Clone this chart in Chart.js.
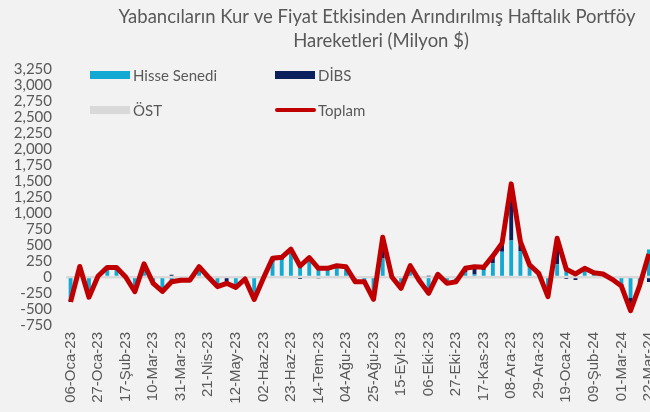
<!DOCTYPE html>
<html>
<head>
<meta charset="utf-8">
<script src="https://cdn.jsdelivr.net/npm/chart.js@4.4.1/dist/chart.umd.min.js"></script>
<style>
    html, body { margin: 0; padding: 0; background: #f2f2f2; overflow: hidden; }
    #wrap { width: 674px; height: 412px; }
</style>
</head>
<body>
<div id="wrap"><canvas id="flows"></canvas></div>
<script>
const weeks = [
    '06-Oca-23', '13-Oca-23', '20-Oca-23', '27-Oca-23', '03-Şub-23', '10-Şub-23', '17-Şub-23', '24-Şub-23',
    '03-Mar-23', '10-Mar-23', '17-Mar-23', '24-Mar-23', '31-Mar-23', '07-Nis-23', '14-Nis-23', '21-Nis-23',
    '28-Nis-23', '05-May-23', '12-May-23', '19-May-23', '26-May-23', '02-Haz-23', '09-Haz-23', '16-Haz-23',
    '23-Haz-23', '30-Haz-23', '07-Tem-23', '14-Tem-23', '21-Tem-23', '28-Tem-23', '04-Ağu-23', '11-Ağu-23',
    '18-Ağu-23', '25-Ağu-23', '01-Eyl-23', '08-Eyl-23', '15-Eyl-23', '22-Eyl-23', '29-Eyl-23', '06-Eki-23',
    '13-Eki-23', '20-Eki-23', '27-Eki-23', '03-Kas-23', '10-Kas-23', '17-Kas-23', '24-Kas-23', '01-Ara-23',
    '08-Ara-23', '15-Ara-23', '22-Ara-23', '29-Ara-23', '05-Oca-24', '12-Oca-24', '19-Oca-24', '26-Oca-24',
    '02-Şub-24', '09-Şub-24', '16-Şub-24', '23-Şub-24', '01-Mar-24', '08-Mar-24', '15-Mar-24', '22-Mar-24'
]

// Hisse Senedi
const equity = [
    -360, 150, -280, 15, 120, 120, -10, -190, 180, -100, -200, -110, -50, -40, 120, -20,
    -110, -20, -120, -30, -330, -20, 230, 270, 380, 200, 250, 150, 110, 150, 130, -90,
    -70, -330, 290, 20, -150, 120, -50, -270, 20, -70, -60, 80, 40, 110, 215, 395,
    570, 405, 180, 50, -250, 200, 140, 90, 100, 60, 40, -60, -110, -330, -150, 430
]
// DİBS
const govBonds = [
    -30, 15, -35, 0, 30, 30, 10, -40, 25, 0, -25, 35, 0, -10, 40, 20,
    -40, -80, -40, 0, -20, 0, 60, 40, 40, -30, 50, -25, 10, 25, 30, 20,
    0, -20, 330, -20, -27, 50, -10, 10, 0, -30, -13, 50, 120, 40, 110, 130,
    870, 145, 0, 0, -55, 400, -30, -45, 30, 0, 0, 20, -30, -190, 20, -80
]
// ÖST
const corpBonds = [
    0, 0, 0, 0, 0, 0, 0, 0, 0, 0, 0, 0, 0, 0, 0, 0,
    0, 0, 0, 0, 0, 0, 0, 0, 15, 0, 0, 0, 16, 0, 0, 0,
    0, 0, 0, 0, 0, 0, 0, 0, 22, 0, 0, 0, 0, 0, 0, 0,
    15, 0, 0, 0, 0, 0, 0, 0, 6, 0, 0, 0, 0, 0, 0, 0
]
// Toplam
const total = [
    -390, 165, -315, 15, 150, 150, 0, -230, 205, -100, -225, -75, -50, -50, 160, 0,
    -150, -99, -162, -31, -350, -21, 292, 308, 435, 172, 302, 136, 136, 177, 161, -73,
    -73, -350, 621, 0, -177, 177, -60, -255, 42, -99, -73, 136, 161, 152, 329, 527,
    1455, 552, 188, 58, -308, 605, 120, 47, 136, 67, 47, -36, -141, -527, -130, 360
]

const titleLines = ['Yabancıların Kur ve Fiyat Etkisinden Arındırılmış Haftalık Portföy', 'Hareketleri (Milyon $)']
const textColor = '#595959'

// title and the two-column legend sit inside the empty top of the chart
const decorPlugin = {
    id: 'decor',
    afterDraw(chart) {
        const ctx = chart.ctx
        ctx.save()
        ctx.fillStyle = textColor
        ctx.textAlign = 'center'
        ctx.textBaseline = 'middle'
        ctx.font = '18.5px Lato'
        ctx.fillText(titleLines[0], 377, 17)
        ctx.fillText(titleLines[1], 381, 41)

        const items = chart.data.datasets.map(ds => ({ label: ds.label, color: ds.borderColor || ds.backgroundColor, type: ds.type }))
        const spots = { 'Hisse Senedi': [90, 75], 'DİBS': [275, 75], 'ÖST': [90, 110], 'Toplam': [275, 110] }
        ctx.textAlign = 'left'
        ctx.font = '15px Lato'
        items.forEach(it => {
            const [x, y] = spots[it.label]
            if (it.type === 'line') {
                ctx.strokeStyle = it.color
                ctx.lineWidth = 4
                ctx.lineCap = 'round'
                ctx.beginPath()
                ctx.moveTo(x + 2, y)
                ctx.lineTo(x + 39, y)
                ctx.stroke()
            } else {
                ctx.fillStyle = it.color
                ctx.fillRect(x, y - 4, 40, 8)
            }
            ctx.fillStyle = textColor
            ctx.fillText(it.label, x + 43, y + 1)
        })
        ctx.restore()
    }
}

const ctx = document.getElementById('flows')
new Chart(ctx, {
    data: {
        labels: weeks,
        datasets: [
            { type: 'line', label: 'Toplam', data: total, borderColor: '#C00000', borderWidth: 5,
              pointRadius: 0, tension: 0, borderJoinStyle: 'round', stack: 'line', order: 0 },
            { type: 'bar', label: 'Hisse Senedi', data: equity, backgroundColor: '#12A9D3', stack: 'parts', order: 1 },
            { type: 'bar', label: 'DİBS', data: govBonds, backgroundColor: '#0B1F5C', stack: 'parts', order: 1 },
            { type: 'bar', label: 'ÖST', data: corpBonds, backgroundColor: '#D9D9D9', stack: 'parts', order: 1 }
        ]
    },
    options: {
        responsive: true,
        maintainAspectRatio: false,
        animation: false,
        datasets: { bar: { barPercentage: 0.42, categoryPercentage: 1 } },
        layout: { padding: { top: 69, right: 11, left: 0, bottom: 0 } },
        plugins: { legend: { display: false }, tooltip: { enabled: false } },
        scales: {
            x: {
                stacked: true,
                grid: { display: false, drawTicks: false },
                border: { display: false },
                afterFit: (scale) => { scale.height = 87 },
                ticks: {
                    autoSkip: false, minRotation: 90, maxRotation: 90, padding: 7,
                    color: textColor, font: { family: 'Liberation Sans', size: 15 },
                    callback: function (v, i) { return i % 3 === 0 ? this.getLabelForValue(v) : '' }
                }
            },
            y: {
                stacked: true,
                min: -750, max: 3250,
                border: { display: false },
                afterFit: (scale) => { scale.width = 66 },
                grid: {
                    drawTicks: false,
                    color: (c) => c.tick && c.tick.value === 0 ? '#D9D9D9' : 'rgba(0,0,0,0)',
                    lineWidth: (c) => c.tick && c.tick.value === 0 ? 2.5 : 0
                },
                ticks: {
                    stepSize: 250, padding: 14, autoSkip: false,
                    color: textColor, font: { family: 'Lato', size: 15 },
                    callback: (v) => v.toLocaleString('en-US')
                }
            }
        }
    },
    plugins: [decorPlugin]
})
</script>
</body>
</html>
